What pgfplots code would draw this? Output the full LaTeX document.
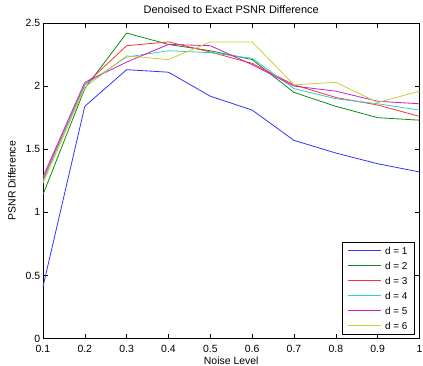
\documentclass[border=0pt]{standalone}
\usepackage{pgfplots}
\pgfplotsset{compat=1.18}
\usepackage{fontspec}
\setmainfont{Liberation Sans}
\definecolor{mblue}{rgb}{0.2,0.2,1}
\definecolor{mgreen}{rgb}{0.05,0.55,0.05}
\definecolor{mred}{rgb}{1,0.2,0.2}
\definecolor{mcyan}{rgb}{0.2,0.8,0.8}
\definecolor{mmag}{rgb}{0.8,0.1,0.8}
\definecolor{myel}{rgb}{0.8,0.8,0.2}
\begin{document}
\begin{tikzpicture}
\begin{axis}[
  scale only axis,
  width=377bp, height=316bp,
  xmin=0.1, xmax=1, ymin=0, ymax=2.5,
  xtick={0.1,0.2,0.3,0.4,0.5,0.6,0.7,0.8,0.9,1},
  xticklabels={0.1,0.2,0.3,0.4,0.5,0.6,0.7,0.8,0.9,1},
  ytick={0,0.5,1,1.5,2,2.5},
  yticklabels={0,0.5,1,1.5,2,2.5},
  tick align=inside,
  major tick length=5bp,
  tick style={black, line width=0.5bp},
  axis line style={black, line width=0.7bp},
  every tick label/.append style={font=\fontsize{10.5}{12}\selectfont},
  xticklabel style={anchor=center, yshift=-10bp, inner sep=0pt},
  yticklabel style={anchor=east, xshift=-2.5bp, inner sep=0pt},
  title={Denoised to Exact PSNR Difference},
  xlabel={Noise Level},
  ylabel={PSNR Difference},
  every axis title/.style={at={(axis description cs:0.5,1)}, anchor=center, yshift=13bp, font=\fontsize{11}{13}\selectfont},
  every axis x label/.style={at={(axis description cs:0.5,0)}, anchor=center, yshift=-22bp, font=\fontsize{10.5}{12}\selectfont},
  every axis y label/.style={at={(axis description cs:0,0.5)}, rotate=90, anchor=center, yshift=31bp, font=\fontsize{10.5}{12}\selectfont},
  legend style={font=\fontsize{10}{12}\selectfont, at={(1,0)}, anchor=south east,
    xshift=-4.7bp, yshift=4bp,
    line width=0.6bp, inner xsep=5bp, inner ysep=1.2bp,
    nodes={inner xsep=2bp, inner ysep=3.75bp, text height=7.5bp, text depth=0bp},
    row sep=0bp, column sep=2bp},
  legend cell align=left,
  legend image code/.code={\draw[#1, line width=1bp] (0bp,0bp) -- (32.6bp,0bp);},
  every axis plot/.append style={line width=0.8bp},
]
\addplot[draw=mblue] coordinates {(0.1,0.41) (0.2,1.84) (0.3,2.13) (0.4,2.11) (0.5,1.92) (0.6,1.81) (0.7,1.57) (0.8,1.47) (0.9,1.385) (1,1.32)};
\addlegendentry{d = 1}
\addplot[draw=mgreen] coordinates {(0.1,1.14) (0.2,1.98) (0.3,2.42) (0.4,2.33) (0.5,2.28) (0.6,2.21) (0.7,1.95) (0.8,1.84) (0.9,1.75) (1,1.73)};
\addlegendentry{d = 2}
\addplot[draw=mred] coordinates {(0.1,1.26) (0.2,2.01) (0.3,2.32) (0.4,2.35) (0.5,2.27) (0.6,2.18) (0.7,2.01) (0.8,1.91) (0.9,1.85) (1,1.76)};
\addlegendentry{d = 3}
\addplot[draw=mcyan] coordinates {(0.1,1.245) (0.2,2.01) (0.3,2.23) (0.4,2.28) (0.5,2.265) (0.6,2.22) (0.7,1.98) (0.8,1.90) (0.9,1.86) (1,1.81)};
\addlegendentry{d = 4}
\addplot[draw=mmag] coordinates {(0.1,1.28) (0.2,2.03) (0.3,2.19) (0.4,2.33) (0.5,2.32) (0.6,2.17) (0.7,2.00) (0.8,1.96) (0.9,1.88) (1,1.86)};
\addlegendentry{d = 5}
\addplot[draw=myel] coordinates {(0.1,1.23) (0.2,1.99) (0.3,2.24) (0.4,2.21) (0.5,2.35) (0.6,2.35) (0.7,2.01) (0.8,2.03) (0.9,1.87) (1,1.96)};
\addlegendentry{d = 6}
\end{axis}
\pgfresetboundingbox
\path (current axis.south west) +(-43bp,-27bp) (current axis.north east) +(3.5bp,23bp);
\end{tikzpicture}
\end{document}
